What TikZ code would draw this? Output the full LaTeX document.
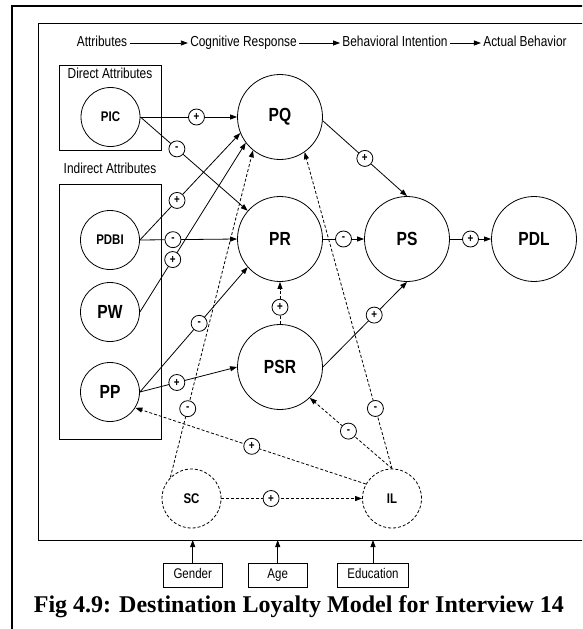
\documentclass[tikz,border=0pt]{standalone}
\usepackage{fontspec}
\setmainfont{Liberation Sans}[FakeStretch=0.82]
\newfontfamily\capfont{Liberation Serif}
\usetikzlibrary{arrows.meta}

\begin{document}
\begin{tikzpicture}[x=1pt,y=-1pt,line width=0.8pt,
  tip/.style={-{Triangle[length=7pt,width=5pt]}},
  dsh/.style={dash pattern=on 3pt off 2pt},
  bigc/.style={circle,draw,minimum size=85pt,inner sep=0pt,
    font=\fontsize{19}{20}\selectfont\bfseries},
  attrc/.style={circle,draw,minimum size=59pt,inner sep=0pt,
    font=\fontsize{19}{20}\selectfont\bfseries},
  smallc/.style={circle,draw,minimum size=59pt,inner sep=0pt,
    font=\fontsize{14}{15}\selectfont\bfseries},
  sign/.style={circle,draw,solid,fill=white,minimum size=16pt,inner sep=0pt,
    font=\fontsize{12}{12}\selectfont\bfseries},
  lbl/.style={font=\fontsize{14.5}{16}\selectfont,inner sep=2pt,
    text height=10pt,text depth=3pt},
  demo/.style={draw,minimum width=59pt,minimum height=24pt,inner sep=0pt,
    text height=10pt,text depth=3pt,font=\fontsize{14}{16}\selectfont}
]
\useasboundingbox (0,0) rectangle (582,629);
\clip (0,0) rectangle (582,629);

% page frame and model frame
\draw[line width=1.6pt] (12,640) -- (12,6) -- (600,6);
\draw[line width=0.9pt] (600,23) -- (38,23) -- (38,540) -- (600,540);

% stage header
\node[lbl] (h1) at (102,43) {Attributes};
\node[lbl] (h2) at (243.5,43) {Cognitive Response};
\node[lbl] (h3) at (395,43) {Behavioral Intention};
\node[lbl] (h4) at (525,43) {Actual Behavior};
\draw[tip] (h1) -- (h2);
\draw[tip] (h2) -- (h3);
\draw[tip] (h3) -- (h4);

% attribute groups
\draw (59,65) rectangle (161,150);
\node[lbl] (da) at (110,75) {Direct Attributes};
\node[lbl] (ia) at (110,170) {Indirect Attributes};
\draw (59,184) rectangle (161,439);

% constructs
\node[smallc] (PIC) at (110.5,117) {PIC};
\node[smallc] (PDBI) at (110,240) {PDBI};
\node[attrc] (PW) at (110,312) {PW};
\node[attrc] (PP) at (110,392) {PP};
\node[bigc] (PQ) at (280,117) {PQ};
\node[bigc] (PR) at (280,239) {PR};
\node[bigc] (PS) at (407,239) {PS};
\node[bigc] (PDL) at (534,239) {PDL};
\node[bigc] (PSR) at (280,367) {PSR};
\node[smallc,dsh] (SC) at (191.5,498.5) {SC};
\node[smallc,dsh] (IL) at (392,498.5) {IL};

% direct effects
\draw[tip] (PIC.east) -- node[sign,pos=0.58] (s1) {+} (PQ.west);
\draw[tip] (PIC.east) -- node[sign,pos=0.34] (s2) {-} (PR);
\draw[tip] (PDBI.east) -- node[sign,pos=0.37] (s3) {+} (PQ.202);
\draw[tip] (PDBI.east) -- node[sign,pos=0.34] (s4) {-} (PR.west);
\draw[tip] (PW.east) -- node[sign,pos=0.31] (s5) {+} (PQ.217);
\draw[tip] (PP.east) -- node[sign,pos=0.55] (s6) {-} (PR.221);
\draw[tip] (PP.east) -- node[sign,pos=0.38] (s7) {+} (PSR.west);
\draw[tip] (PQ.-5) -- node[sign,pos=0.5] (s8) {+} (PS.north);
\draw[tip] (PR.east) -- node[sign,pos=0.5] (s9) {-} (PS.west);
\draw[tip] (PS.east) -- node[sign,pos=0.5] (s10) {+} (PDL.west);
\draw[tip] (PSR.east) -- node[sign,pos=0.61] (s11) {+} (PS.south);
\draw[tip,dsh] (PSR.north) -- node[sign,pos=0.4] (s12) {+} (PR.south);

% moderating effects
\draw[tip,dsh] (SC.135) -- node[sign,pos=0.21] (s13) {-} (PQ.231);
\draw[tip,dsh] (IL.north) -- node[sign,pos=0.19] (s14) {-} (PQ.-55);
\draw[tip,dsh] (IL.north) -- node[sign,pos=0.53] (s15) {-} (PSR.-46);
\draw[tip,dsh] (IL.151) -- node[sign,pos=0.495] (s16) {+} (PP.-32);
\draw[tip,dsh] (SC.east) -- node[sign,pos=0.353] (s17) {+} (IL.west);

% demographics
\node[demo] (gen) at (192.7,575) {Gender};
\node[demo] (age) at (277.7,575) {Age};
\node[demo,minimum width=71pt] (edu) at (373,575) {Education};
\coordinate (genT) at (192.7,540);
\coordinate (ageT) at (277.7,540);
\coordinate (eduT) at (373,540);
\draw[tip] (gen) -- (genT);
\draw[tip] (age) -- (ageT);
\draw[tip] (edu) -- (eduT);

% caption
\node[anchor=base west,inner sep=0pt,font=\capfont\fontsize{24}{26}\selectfont\bfseries] (cap)
  at (33.5,612) {Fig 4.9: Destination Loyalty Model for Interview 14};
\end{tikzpicture}
\end{document}
